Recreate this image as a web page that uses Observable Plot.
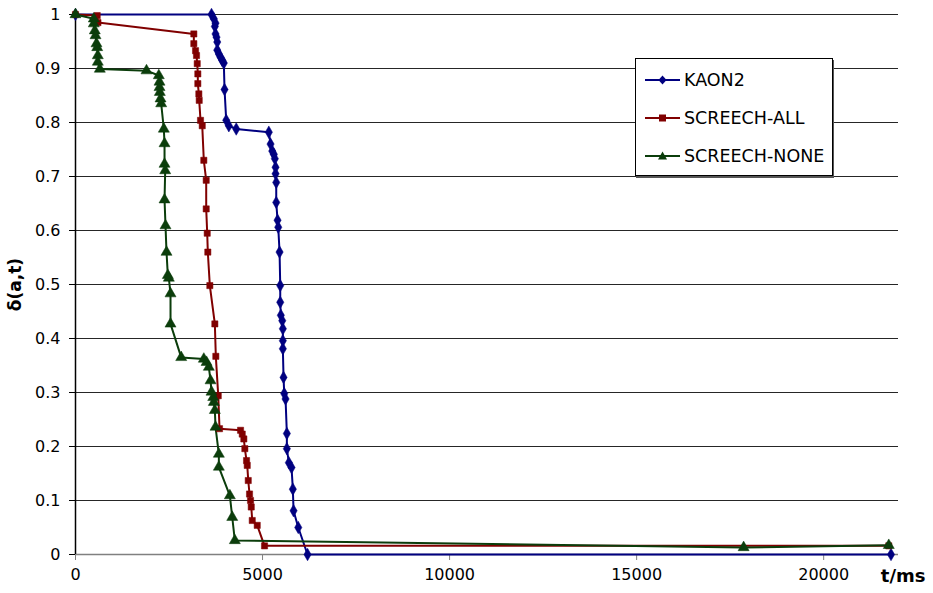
<!DOCTYPE html>
<html>
<head>
<meta charset="utf-8">
<script src="https://cdn.jsdelivr.net/npm/d3@7"></script>
<script src="https://cdn.jsdelivr.net/npm/@observablehq/plot@0.6"></script>
<style>
  html, body { margin: 0; padding: 0; background: #fff; }
  #wrap { position: relative; width: 933px; height: 593px; font-family: "DejaVu Sans", Verdana, sans-serif; }
  #legend { position: absolute; left: 635px; top: 58px; width: 196px; height: 116px; border: 1px solid #000; background: #fff; box-shadow: 1px 2px 0 #555; }
  .row { position: absolute; left: 9px; height: 20px; display: flex; align-items: center; font-size: 17.5px; color: #000; white-space: nowrap; }
  .row svg { margin-right: 3px; }
</style>
</head>
<body>
<div id="wrap"></div>
<script>
// ---- data ----
const seriesNames = ["KAON2", "SCREECH-ALL", "SCREECH-NONE"];
const seriesColors = ["#000080", "#800000", "#0b3d0b"];
const seriesSymbols = ["diamond", "square", "triangle"];

const kaonT = [0, 3636, 3698, 3743, 3725, 3743, 3770, 3789, 3789, 3832, 3877, 3922, 3965, 3984, 4029, 4099, 4297,
  5168, 5214, 5259, 5302, 5329, 5348, 5348, 5366, 5366, 5401, 5420, 5455, 5473, 5473, 5489, 5527, 5543, 5543, 5543,
  5561, 5580, 5615, 5650, 5650, 5703, 5775, 5810, 5829, 5955, 6203, 21800];
const kaonY = [1, 1, 0.992, 0.984, 0.978, 0.964, 0.958, 0.949, 0.934, 0.927, 0.921, 0.915, 0.910, 0.861, 0.804, 0.794, 0.788,
  0.782, 0.760, 0.747, 0.741, 0.733, 0.717, 0.705, 0.689, 0.652, 0.619, 0.606, 0.560, 0.498, 0.467, 0.443, 0.433, 0.418, 0.396, 0.381,
  0.328, 0.298, 0.288, 0.224, 0.196, 0.170, 0.161, 0.121, 0.081, 0.050, 0, 0];

const allT = [0, 580, 600, 3163, 3163, 3209, 3235, 3254, 3270, 3270, 3297, 3307, 3342, 3388, 3430, 3494, 3494, 3521, 3537, 3591,
  3725, 3751, 3816, 3850, 4412, 4457, 4500, 4527, 4572, 4591, 4618, 4652, 4679, 4698, 4725, 4858, 5053, 21740];
const allY = [1, 0.998, 0.985, 0.964, 0.946, 0.933, 0.924, 0.909, 0.890, 0.872, 0.853, 0.841, 0.804, 0.794, 0.730, 0.693, 0.640, 0.595, 0.560, 0.498,
  0.427, 0.367, 0.294, 0.233, 0.230, 0.223, 0.214, 0.196, 0.174, 0.165, 0.137, 0.112, 0.100, 0.088, 0.063, 0.054, 0.016, 0.016];

const noneT = [0, 489, 489, 516, 535, 561, 580, 596, 596, 650, 1898, 2227, 2246, 2246, 2254, 2273, 2291, 2361, 2380, 2380, 2398,
  2380, 2406, 2433, 2468, 2495, 2540, 2540, 2826, 3430, 3503, 3564, 3610, 3636, 3682, 3698, 3725, 3743, 3832, 3832, 4126, 4190, 4259, 17860, 21740];
const noneY = [1, 0.992, 0.983, 0.970, 0.961, 0.946, 0.939, 0.924, 0.912, 0.899, 0.896, 0.887, 0.875, 0.865, 0.856, 0.844, 0.835, 0.788, 0.761, 0.723, 0.711,
  0.657, 0.609, 0.560, 0.517, 0.512, 0.483, 0.427, 0.365, 0.362, 0.356, 0.347, 0.322, 0.301, 0.291, 0.282, 0.267, 0.236, 0.186, 0.162, 0.109, 0.069, 0.026, 0.013, 0.017];

const xTicks = [0, 5000, 10000, 15000, 20000];
const yTicks = [0, 0.1, 0.2, 0.3, 0.4, 0.5, 0.6, 0.7, 0.8, 0.9, 1];
const yLabel = "δ(a,t)";
const xLabel = "t/ms";

// ---- tables ----
const seriesT = [kaonT, allT, noneT];
const seriesY = [kaonY, allY, noneY];
const tables = seriesNames.map((name, i) => seriesT[i].map((t, j) => ({series: name, t, v: seriesY[i][j]})));

const marks = [
  Plot.ruleY(yTicks.filter(d => d > 0), {stroke: "#000", strokeWidth: 1, strokeOpacity: 0.85}),
  Plot.ruleY([0], {stroke: "#808080", strokeWidth: 1.5}),
  Plot.ruleX([0], {stroke: "#000", strokeWidth: 1.5}),
  Plot.axisY({ticks: yTicks, tickSize: 6, tickPadding: 9, fontSize: 16, tickFormat: d => String(+d.toFixed(1)), label: null, stroke: "#000"}),
  Plot.axisX({ticks: xTicks, tickSize: 6, tickPadding: 8, fontSize: 16, tickFormat: d3.format("d"), label: null, stroke: "#808080"}),
  Plot.text([yLabel], {frameAnchor: "left", textAnchor: "middle", dx: -60, rotate: -90, fontSize: 17, fontWeight: "bold", fill: "#000"}),
  Plot.text([xLabel], {frameAnchor: "bottom-right", dx: 27, dy: 27, fontSize: 18, fontWeight: "bold", fill: "#000", textAnchor: "end"})
];
tables.forEach((tab, i) => {
  marks.push(Plot.line(tab, {x: "t", y: "v", stroke: seriesColors[i], strokeWidth: 2}));
});
tables.forEach((tab, i) => {
  marks.push(Plot.dot(tab, {x: "t", y: "v", symbol: seriesSymbols[i], fill: seriesColors[i], stroke: seriesColors[i], strokeWidth: 0.5, r: [3.8, 3.5, 4.1][i]}));
});

const chart = Plot.plot({
  width: 933,
  height: 593,
  marginLeft: 75,
  marginRight: 35,
  marginTop: 14,
  marginBottom: 39,
  style: {fontFamily: "'DejaVu Sans', Verdana, sans-serif", fontSize: "16px", color: "#000", background: "#fff"},
  x: {domain: [0, 22000]},
  y: {domain: [0, 1]},
  marks
});
const wrap = document.getElementById("wrap");
wrap.appendChild(chart);

// ---- legend ----
const legend = document.createElement("div");
legend.id = "legend";
const symPaths = {
  diamond: "M17.5,5.5 L21.5,10 L17.5,14.5 L13.5,10 Z",
  square: "M14,6.5 L21,6.5 L21,13.5 L14,13.5 Z",
  triangle: "M17.5,5.5 L22,13.5 L13,13.5 Z"
};
seriesNames.forEach((name, i) => {
  const row = document.createElement("div");
  row.className = "row";
  row.style.top = (11 + i * 38) + "px";
  row.innerHTML = `<svg width="36" height="20"><line x1="0" y1="10" x2="35" y2="10" stroke="${seriesColors[i]}" stroke-width="2"/><path d="${symPaths[seriesSymbols[i]]}" fill="${seriesColors[i]}"/></svg><span>${name}</span>`;
  legend.appendChild(row);
});
wrap.appendChild(legend);
</script>
</body>
</html>
